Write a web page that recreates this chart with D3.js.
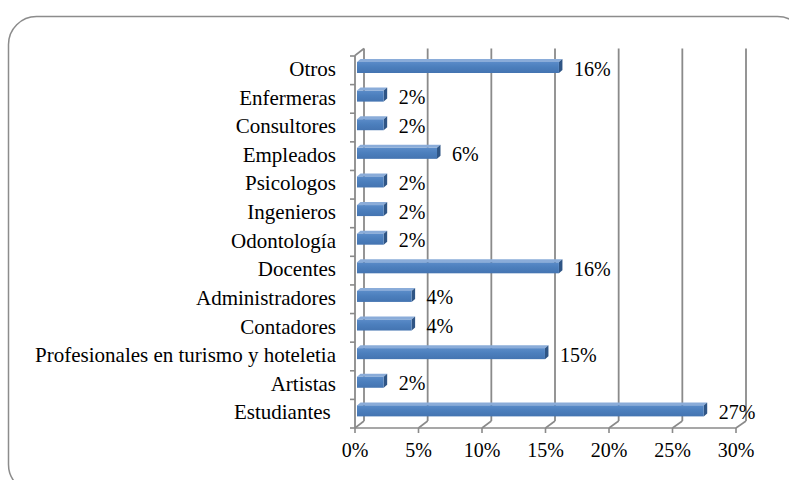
<!DOCTYPE html>
<html>
<head>
<meta charset="utf-8">
<script src="https://cdn.jsdelivr.net/npm/d3@7"></script>
<style>
  html, body { margin: 0; padding: 0; background: #ffffff; }
  svg { display: block; }
  text { white-space: pre; }
</style>
</head>
<body>
<svg id="chart" width="789" height="480"></svg>
<script>
// ---- data (top to bottom as shown) ----
const categories = [
  "Otros", "Enfermeras", "Consultores", "Empleados", "Psicologos", "Ingenieros",
  "Odontología", "Docentes", "Administradores", "Contadores",
  "Profesionales en turismo y hoteletia", "Artistas", "Estudiantes "
];
const values = [0.159, 0.021, 0.021, 0.063, 0.021, 0.021, 0.021, 0.159, 0.043, 0.043, 0.148, 0.021, 0.273];
const tickValues = [0, 0.05, 0.10, 0.15, 0.20, 0.25, 0.30];
const tickLabels = ["0%", "5%", "10%", "15%", "20%", "25%", "30%"];

const svg = d3.select("#chart");
const font = "'Liberation Serif', 'Times New Roman', serif";
const gridColor = "#8a8a8a";

// frame
svg.append("rect")
  .attr("x", 8.5).attr("y", 16.5)
  .attr("width", 797).attr("height", 476)
  .attr("rx", 28).attr("ry", 28)
  .attr("fill", "#fff").attr("stroke", "#8c8c8c").attr("stroke-width", 1.5);

// 3D geometry
const depthDx = 9, depthDy = -7;
const xFront = d3.scaleLinear().domain([0, 0.30]).range([355, 736]);
const xBack = d3.scaleLinear().domain([0, 0.30]).range([355 + depthDx, 736 + 10]);
const xBar = d3.scaleLinear().domain([0, 0.30]).range([357, 738]);
const y = d3.scaleBand().domain(categories).range([56, 428]).padding(0);
const frontTop = 55.5, frontBottom = 428;
const backTop = frontTop + depthDy, backBottom = frontBottom + depthDy;

const g = svg.append("g");

// back wall gridlines
g.selectAll("line.grid").data(tickValues).enter().append("line")
  .attr("class", "grid")
  .attr("x1", d => xBack(d)).attr("x2", d => xBack(d))
  .attr("y1", backTop).attr("y2", backBottom)
  .attr("stroke", gridColor).attr("stroke-width", 1.8);

// floor diagonals
g.selectAll("line.floor").data(tickValues).enter().append("line")
  .attr("x1", d => xFront(d)).attr("y1", frontBottom)
  .attr("x2", d => xBack(d)).attr("y2", backBottom)
  .attr("stroke", gridColor).attr("stroke-width", 1.6);

// front floor edge (x axis)
g.append("line")
  .attr("x1", xFront(0)).attr("x2", xFront(0.30))
  .attr("y1", frontBottom).attr("y2", frontBottom)
  .attr("stroke", gridColor).attr("stroke-width", 1.6);
// x ticks
g.selectAll("line.xtick").data(tickValues).enter().append("line")
  .attr("x1", d => xFront(d)).attr("x2", d => xFront(d))
  .attr("y1", frontBottom).attr("y2", frontBottom + 5)
  .attr("stroke", gridColor).attr("stroke-width", 1.6);

// left wall: front edge + top diagonal
g.append("line")
  .attr("x1", xFront(0)).attr("x2", xFront(0))
  .attr("y1", frontTop).attr("y2", frontBottom)
  .attr("stroke", gridColor).attr("stroke-width", 1.8);
g.append("line")
  .attr("x1", xFront(0)).attr("y1", frontTop)
  .attr("x2", xBack(0)).attr("y2", backTop)
  .attr("stroke", gridColor).attr("stroke-width", 1.6);

// category ticks
const catTicks = categories.map(c => y(c)).concat([y.range()[1]]);
g.selectAll("line.ytick").data(catTicks).enter().append("line")
  .attr("x1", xFront(0) - 5).attr("x2", xFront(0))
  .attr("y1", d => d).attr("y2", d => d)
  .attr("stroke", gridColor).attr("stroke-width", 1.6);

// gradient for bar front
const defs = svg.append("defs");
const grad = defs.append("linearGradient").attr("id", "barFront")
  .attr("x1", 0).attr("y1", 0).attr("x2", 0).attr("y2", 1);
grad.append("stop").attr("offset", "0%").attr("stop-color", "#5a8bc8");
grad.append("stop").attr("offset", "45%").attr("stop-color", "#4c7fbd");
grad.append("stop").attr("offset", "100%").attr("stop-color", "#4474b1");

const bdx = 3.5, bdy = 3;
const barTopOff = 6, barH = 11;

const bars = g.selectAll("g.bar").data(categories).enter().append("g").attr("class", "bar");
bars.each(function(c, i) {
  const sel = d3.select(this);
  const x0 = xBar(0), x1 = xBar(values[i]);
  const yt = y(c) + barTopOff, yb = yt + barH;
  // top face
  sel.append("path")
    .attr("d", `M${x0},${yt}L${x1},${yt}L${x1 + bdx},${yt - bdy}L${x0 + bdx},${yt - bdy}Z`)
    .attr("fill", "#8aacd9");
  // side face
  sel.append("path")
    .attr("d", `M${x1},${yt}L${x1 + bdx},${yt - bdy}L${x1 + bdx},${yb - bdy}L${x1},${yb}Z`)
    .attr("fill", "#2f5585");
  // front face
  sel.append("rect")
    .attr("x", x0).attr("y", yt).attr("width", x1 - x0).attr("height", barH)
    .attr("fill", "url(#barFront)");
});

// value labels
g.selectAll("text.val").data(categories).enter().append("text")
  .attr("x", (c, i) => xBar(values[i]) + 15)
  .attr("y", c => y(c) + 19.5)
  .attr("font-family", font).attr("font-size", 20).attr("fill", "#000")
  .text((c, i) => Math.round(values[i] * 100) + "%");

// category labels
g.selectAll("text.cat").data(categories).enter().append("text")
  .attr("x", 336)
  .attr("y", c => y(c) + 20)
  .attr("text-anchor", "end")
  .attr("font-family", font).attr("font-size", 21).attr("fill", "#000")
  .text(c => c);

// x tick labels
g.selectAll("text.xl").data(tickValues).enter().append("text")
  .attr("x", d => xFront(d))
  .attr("y", 457)
  .attr("text-anchor", "middle")
  .attr("font-family", font).attr("font-size", 20).attr("fill", "#000")
  .text((d, i) => tickLabels[i]);
</script>
</body>
</html>
